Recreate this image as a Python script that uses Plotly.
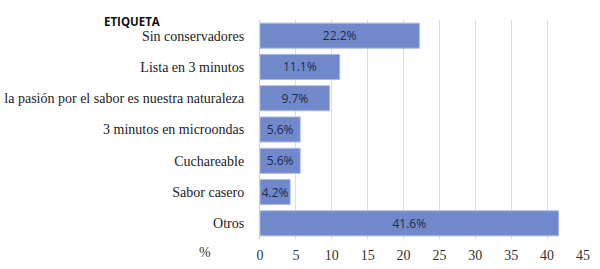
import plotly.graph_objects as go

categories = ["Sin conservadores", "Lista en 3 minutos",
              "la pasión por el sabor es nuestra naturaleza",
              "3 minutos en microondas", "Cuchareable", "Sabor casero", "Otros"]
values = [22.2, 11.1, 9.7, 5.6, 5.6, 4.2, 41.6]
labels = ["22.2%", "11.1%", "9.7%", "5.6%", "5.6%", "4.2%", "41.6%"]
tick_vals = [0, 5, 10, 15, 20, 25, 30, 35, 40, 45]

SERIF = "Times New Roman, Liberation Serif, serif"
SANS = "Open Sans"

fig = go.Figure(go.Bar(
    y=categories, x=values, orientation="h",
    text=labels, textposition="inside", insidetextanchor="middle",
    textfont=dict(family=SANS, size=12, color="#1c2a48"),
    marker=dict(color="#7189cb", line=dict(color="#a9b8e0", width=1)),
    width=0.8, cliponaxis=False,
))
fig.update_layout(
    width=600, height=269, margin=dict(l=260, r=17, t=20, b=30),
    paper_bgcolor="white", plot_bgcolor="white", showlegend=False,
    uniformtext=dict(minsize=12, mode="show"),
    font=dict(family=SERIF, size=14, color="#222"),
)
fig.update_xaxes(range=[0, 45], tickvals=tick_vals, showgrid=True,
                 gridcolor="#dcdcdc", gridwidth=1, zeroline=False,
                 tickfont=dict(family=SERIF, size=14, color="#333"),
                 ticks="", ticklabelstandoff=6, fixedrange=True, automargin=False)
fig.update_yaxes(categoryorder="array", categoryarray=categories[::-1],
                 autorange=True, showline=True, linecolor="#cfcfcf", linewidth=1,
                 ticks="", ticklabelstandoff=12, automargin=False, fixedrange=True,
                 tickfont=dict(family=SERIF, size=14, color="#222"))
fig.add_annotation(text="<b>ETIQUETA</b>", xref="paper", yref="paper",
                   x=-0.396, y=0.995, xanchor="center", yanchor="middle", showarrow=False,
                   font=dict(family=SANS, size=11.5, color="#111"))
fig.add_annotation(text="%", xref="paper", yref="paper",
                   x=-0.17, y=-0.06, xanchor="center", yanchor="middle", showarrow=False,
                   font=dict(family=SERIF, size=14, color="#333"))
fig.write_html("out.html", config={"displayModeBar": False},
               post_script="document.body.style.margin='0';document.body.style.padding='0';")
